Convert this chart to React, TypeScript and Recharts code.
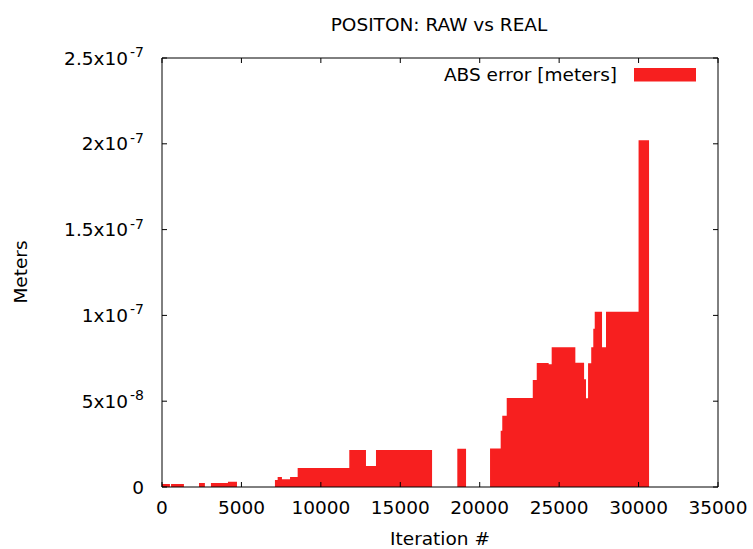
import React from 'react';
import { ComposedChart, Area, XAxis, YAxis } from 'recharts';

// Iteration # where each box begins (step breakpoints), and the ABS error held from there on
const iterationBreaks = [
  -200, 500, 570, 1380, 2330, 2700, 3080, 4150, 4720, 7110, 7280, 7550, 8060, 8540,
  11790, 12840, 13470, 17000, 18590, 19140, 20650, 21320, 21420, 21700, 23340, 23590,
  24340, 24530, 26020, 26570, 26690, 26820, 27020, 27150, 27240, 27700, 27950, 30000, 30660,
];
const absErrorMeters = [
  1.7e-9, 0, 1.7e-9, 0, 2.3e-9, 0, 2.3e-9, 3.1e-9, 0, 4.1e-9, 5.8e-9, 4.5e-9, 5.8e-9, 11.1e-9,
  21.6e-9, 12.2e-9, 21.6e-9, 0, 22.3e-9, 0, 22.5e-9, 32.8e-9, 41.5e-9, 51.9e-9, 62.4e-9, 72.3e-9,
  71.5e-9, 81.4e-9, 72.4e-9, 62.8e-9, 51.7e-9, 72.1e-9, 81.4e-9, 92.2e-9, 102.2e-9, 81.4e-9, 102.2e-9, 202e-9, 0,
];

const xTicks = [0, 5000, 10000, 15000, 20000, 25000, 30000, 35000];
const xTickLabels = ['0', '5000', '10000', '15000', '20000', '25000', '30000', '35000'];
const yTicks = [0, 5e-8, 1e-7, 1.5e-7, 2e-7, 2.5e-7];
const yTickMantissa = ['0', '5x10', '1x10', '1.5x10', '2x10', '2.5x10'];
const yTickExponent = ['', '-8', '-7', '-7', '-7', '-7'];

const title = 'POSITON: RAW vs REAL';
const xLabel = 'Iteration #';
const yLabel = 'Meters';
const seriesName = 'ABS error [meters]';

const data = iterationBreaks.map((it, i) => ({ iteration: it, err: absErrorMeters[i] }));

const FONT = 'DejaVu Sans';
const FS = 18.5;
const RED = '#f71f1f';
const TICK = 5;

const BottomTick = (props: any) => {
  const { x, y, index } = props;
  return (
    <g>
      <line x1={x} x2={x} y1={y} y2={y - TICK} stroke="#000" strokeWidth={1} />
      <text x={x} y={y + 26.5} textAnchor="middle" fontFamily={FONT} fontSize={FS} fill="#000">
        {xTickLabels[index]}
      </text>
    </g>
  );
};

const TopTick = (props: any) => {
  const { x, y } = props;
  return <line x1={x} x2={x} y1={y} y2={y + TICK} stroke="#000" strokeWidth={1} />;
};

const LeftTick = (props: any) => {
  const { x, y, index } = props;
  return (
    <g>
      <line x1={x} x2={x + TICK} y1={y} y2={y} stroke="#000" strokeWidth={1} />
      <text x={x - 18} y={y + 6.5} textAnchor="end" fontFamily={FONT} fontSize={FS} fill="#000">
        <tspan>{yTickMantissa[index]}</tspan>
        {yTickExponent[index] ? (
          <tspan dx={2} dy={-7.5} fontSize={14}>
            {yTickExponent[index]}
          </tspan>
        ) : null}
      </text>
    </g>
  );
};

const RightTick = (props: any) => {
  const { x, y } = props;
  return <line x1={x} x2={x - TICK} y1={y} y2={y} stroke="#000" strokeWidth={1} />;
};

export default function App() {
  return (
    <div style={{ position: 'absolute', left: 0, top: 0, width: 753, height: 549, background: '#fff' }}>
      <ComposedChart
        width={753}
        height={549}
        data={data}
        margin={{ top: 8, right: 0, bottom: 12, left: 12 }}
      >
        <XAxis
          dataKey="iteration"
          type="number"
          domain={[0, 35000]}
          allowDataOverflow
          ticks={xTicks}
          interval={0}
          tickSize={0}
          tickMargin={0}
          tick={<BottomTick />}
          axisLine={{ stroke: '#000' }}
          tickLine={false}
          height={50}
        />
        <XAxis
          xAxisId="top"
          orientation="top"
          dataKey="iteration"
          type="number"
          domain={[0, 35000]}
          allowDataOverflow
          ticks={xTicks}
          interval={0}
          tickSize={0}
          tickMargin={0}
          tick={<TopTick />}
          axisLine={{ stroke: '#000' }}
          tickLine={false}
          height={50}
        />
        <YAxis
          type="number"
          domain={[0, 2.5e-7]}
          allowDataOverflow
          ticks={yTicks}
          interval={0}
          tickSize={0}
          tickMargin={0}
          tick={<LeftTick />}
          axisLine={{ stroke: '#000' }}
          tickLine={false}
          width={150}
        />
        <YAxis
          yAxisId="right"
          orientation="right"
          type="number"
          domain={[0, 2.5e-7]}
          allowDataOverflow
          ticks={yTicks}
          interval={0}
          tickSize={0}
          tickMargin={0}
          tick={<RightTick />}
          axisLine={{ stroke: '#000' }}
          tickLine={false}
          width={35}
        />
        <Area
          type="stepAfter"
          dataKey="err"
          name={seriesName}
          fill={RED}
          fillOpacity={1}
          stroke="none"
          isAnimationActive={false}
          dot={false}
          activeDot={false}
        />
      </ComposedChart>
      <svg
        width={753}
        height={549}
        style={{ position: 'absolute', left: 0, top: 0, pointerEvents: 'none' }}
      >
        <text x={439} y={30.5} textAnchor="middle" fontFamily={FONT} fontSize={FS} fill="#000">
          {title}
        </text>
        <text x={440} y={545} textAnchor="middle" fontFamily={FONT} fontSize={FS} fill="#000">
          {xLabel}
        </text>
        <text
          x={26.7}
          y={272}
          textAnchor="middle"
          transform="rotate(-90 26.7 272)"
          fontFamily={FONT}
          fontSize={FS}
          fill="#000"
        >
          {yLabel}
        </text>
        <text x={617} y={81} textAnchor="end" fontFamily={FONT} fontSize={FS} fill="#000">
          {seriesName}
        </text>
        <rect x={634} y={68} width={62} height={13.5} fill={RED} />
      </svg>
    </div>
  );
}
